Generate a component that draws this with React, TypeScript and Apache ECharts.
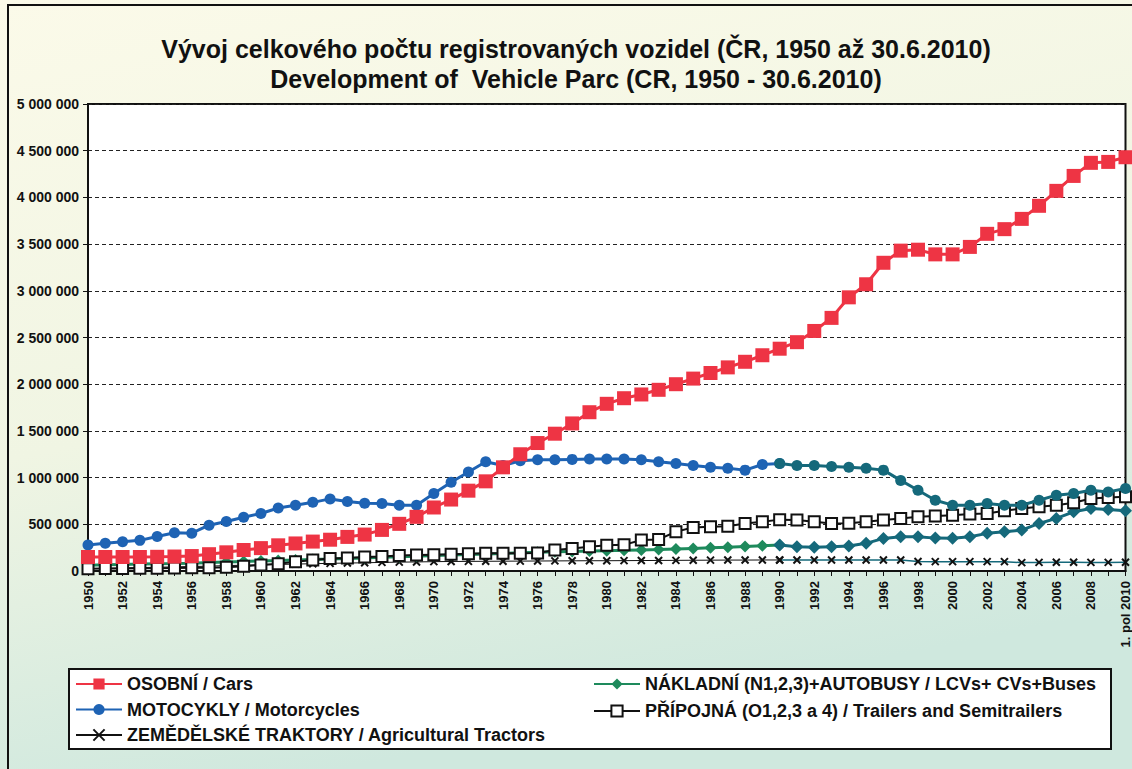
import React, { useEffect, useRef } from "react";
import * as echarts from "echarts";

const years: string[] = [
  "1950","1951","1952","1953","1954","1955","1956","1957","1958","1959",
  "1960","1961","1962","1963","1964","1965","1966","1967","1968","1969",
  "1970","1971","1972","1973","1974","1975","1976","1977","1978","1979",
  "1980","1981","1982","1983","1984","1985","1986","1987","1988","1989",
  "1990","1991","1992","1993","1994","1995","1996","1997","1998","1999",
  "2000","2001","2002","2003","2004","2005","2006","2007","2008","2009",
  "1. pol 2010",
];

// values in thousands
const cars: number[] = [
  150,150,150,150,152,155,160,180,200,225,
  245,275,295,315,335,365,390,440,505,580,
  680,765,860,960,1110,1250,1370,1470,1580,1700,
  1790,1850,1890,1940,2000,2060,2120,2180,2240,2310,
  2380,2450,2570,2710,2930,3070,3300,3430,3440,3390,
  3390,3470,3610,3660,3770,3910,4070,4230,4370,4380,
  4430,
];
const motorcycles: number[] = [
  278,298,313,328,370,410,405,490,530,575,
  616,675,705,735,772,745,725,723,705,705,
  830,950,1060,1170,1130,1180,1190,1190,1195,1200,
  1200,1200,1190,1170,1150,1130,1110,1100,1080,1140,
  1150,1130,1130,1120,1110,1100,1080,970,865,758,
  705,705,723,705,705,758,812,830,865,847,
  883,
];
const trucks: number[] = [
  62,66,70,74,78,80,84,90,96,102,
  108,112,118,124,128,135,140,146,152,158,
  165,170,176,182,188,195,200,205,210,214,
  218,222,226,230,236,242,248,255,262,270,
  278,260,253,260,267,296,349,367,367,352,
  350,367,403,420,438,509,563,634,670,659,
  645,
];
const trailers: number[] = [
  25,27,28,30,30,32,34,36,40,52,
  64,78,100,117,135,140,150,155,165,170,
  175,180,185,189,190,190,192,224,242,260,
  275,280,331,338,420,467,473,480,509,527,
  550,545,527,509,510,527,545,563,580,588,
  598,609,616,645,670,687,705,730,777,787,
  794,
];
const tractors: number[] = [
  25,28,32,36,40,44,48,52,58,62,
  66,70,74,78,82,85,88,92,95,97,
  100,102,103,104,105,106,107,108,109,110,
  110,111,112,113,114,115,116,117,117,118,
  118,117,117,117,117,117,117,117,102,100,
  100,100,100,100,90,92,94,93,92,92,
  94,
];

const yTicks: number[] = [0, 500000, 1000000, 1500000, 2000000, 2500000, 3000000, 3500000, 4000000, 4500000, 5000000];

const NAMES = {
  cars: "OSOBNÍ / Cars",
  moto: "MOTOCYKLY / Motorcycles",
  tract: "ZEMĚDĚLSKÉ TRAKTORY / Agricultural Tractors",
  truck: "NÁKLADNÍ (N1,2,3)+AUTOBUSY / LCVs+ CVs+Buses",
  trail: "PŘÍPOJNÁ (O1,2,3 a 4) / Trailers and Semitrailers",
};

const SPLIT = years.indexOf("1990");
const FONT = "'Liberation Sans Narrow', 'Liberation Sans', Arial, sans-serif";
const FONT_W = "'Liberation Sans', Arial, sans-serif";

const RED = "#ee3444";
const BLUE = "#1e63b4";
const TEAL = "#15697b";
const GREEN = "#1e8a5c";

const toUnits = (arr: number[]) => arr.map((v) => v * 1000);
const pre = (arr: number[]) => toUnits(arr).map((v, i) => (i <= SPLIT ? v : null));
const post = (arr: number[]) => toUnits(arr).map((v, i) => (i >= SPLIT ? v : null));
const fmt = (v: number) => String(v).replace(/\B(?=(\d{3})+(?!\d))/g, " ");

const X_PATH = "path://M0,0L10,10M10,0L0,10";

export default function App() {
  const ref = useRef<HTMLDivElement>(null);
  useEffect(() => {
    if (!ref.current) return;
    const chart = echarts.init(ref.current, null, { renderer: "svg" });
    const legendText = { fontFamily: FONT_W, fontWeight: "bold" as const, fontSize: 18, color: "#111" };
    const common = { type: "line", showAllSymbol: true, smooth: false };
    chart.setOption({
      animation: false,
      backgroundColor: {
        type: "linear", x: 0, y: 0, x2: 0.3, y2: 1,
        colorStops: [
          { offset: 0, color: "#fbfae9" },
          { offset: 0.55, color: "#f0f5e3" },
          { offset: 1, color: "#cfe8de" },
        ],
      },
      title: {
        text: "Vývoj celkového počtu registrovaných vozidel (ČR, 1950 až 30.6.2010)\nDevelopment of  Vehicle Parc (CR, 1950 - 30.6.2010)",
        left: 571,
        textAlign: "center",
        top: 29,
        textStyle: { fontFamily: FONT_W, fontWeight: "bold", fontSize: 25, lineHeight: 30, color: "#111" },
      },
      graphic: [
        { type: "rect", shape: { x: 8, y: 5, width: 1140, height: 800 }, style: { fill: "none", stroke: "#111", lineWidth: 2 }, silent: true, z: 0 },
        { type: "rect", shape: { x: 69, y: 669, width: 1042, height: 80 }, style: { fill: "#fff", stroke: "#111", lineWidth: 2 }, silent: true, z: 0 },
      ],
      legend: [
        {
          data: [NAMES.cars, NAMES.moto, NAMES.tract],
          orient: "vertical", left: 70, top: 670, itemGap: 7.5, itemWidth: 46, itemHeight: 14,
          textStyle: legendText, selectedMode: false,
        },
        {
          data: [NAMES.truck, NAMES.trail],
          orient: "vertical", left: 588, top: 670, itemGap: 9, itemWidth: 46, itemHeight: 14,
          textStyle: legendText, selectedMode: false,
        },
      ],
      grid: {
        left: 88, right: 6, top: 104, bottom: 198,
        show: true, backgroundColor: "#ffffff", borderColor: "#111", borderWidth: 2,
      },
      xAxis: {
        type: "category",
        data: years,
        boundaryGap: false,
        axisLine: { lineStyle: { color: "#111", width: 2 } },
        axisTick: { show: true, interval: 0, length: 5, lineStyle: { color: "#111", width: 1 } },
        axisLabel: {
          interval: 1, rotate: 90, margin: 10,
          fontFamily: FONT, fontWeight: "bold", fontSize: 13, color: "#111",
        },
        splitLine: { show: false },
      },
      yAxis: {
        type: "value",
        min: yTicks[0],
        max: yTicks[yTicks.length - 1],
        interval: yTicks[1] - yTicks[0],
        axisLine: { show: true, lineStyle: { color: "#111", width: 2 } },
        axisTick: { show: true, length: 5, lineStyle: { color: "#111" } },
        axisLabel: {
          margin: 9, formatter: (v: number) => fmt(v),
          fontFamily: FONT, fontWeight: "bold", fontSize: 14, color: "#111",
        },
        splitLine: { show: true, lineStyle: { color: "#222", type: [4, 3], width: 1 } },
      },
      series: [
        {
          ...common, name: NAMES.cars, data: toUnits(cars),
          symbol: "rect", symbolSize: 14, itemStyle: { color: RED }, lineStyle: { color: RED, width: 3 }, z: 5,
        },
        {
          ...common, name: NAMES.moto, data: pre(motorcycles),
          symbol: "circle", symbolSize: 11, itemStyle: { color: BLUE }, lineStyle: { color: BLUE, width: 3 }, z: 4,
        },
        {
          ...common, name: NAMES.moto, data: post(motorcycles),
          symbol: "circle", symbolSize: 11, itemStyle: { color: TEAL }, lineStyle: { color: TEAL, width: 3 }, z: 4,
        },
        {
          ...common, name: NAMES.tract, data: pre(tractors),
          symbol: X_PATH, symbolSize: 7, itemStyle: { color: "#111", borderColor: "#111", borderWidth: 2 },
          lineStyle: { color: "#111", width: 1 }, z: 2,
        },
        {
          ...common, name: NAMES.tract, data: post(tractors),
          symbol: X_PATH, symbolSize: 7, itemStyle: { color: "#111", borderColor: "#111", borderWidth: 2 },
          lineStyle: { color: TEAL, width: 1.5 }, z: 2,
        },
        {
          ...common, name: NAMES.truck, data: pre(trucks),
          symbol: "diamond", symbolSize: 12, itemStyle: { color: GREEN }, lineStyle: { color: GREEN, width: 3 }, z: 3,
        },
        {
          ...common, name: NAMES.truck, data: post(trucks),
          symbol: "diamond", symbolSize: 13, itemStyle: { color: TEAL }, lineStyle: { color: TEAL, width: 3 }, z: 3,
        },
        {
          ...common, name: NAMES.trail, data: toUnits(trailers),
          symbol: "rect", symbolSize: 11,
          itemStyle: { color: "#ffffff", borderColor: "#111", borderWidth: 2 },
          lineStyle: { color: "#111", width: 2 }, z: 3,
        },
      ],
    });
    return () => chart.dispose();
  }, []);
  return (
    <div
      ref={ref}
      style={{ position: "fixed", left: 0, top: 0, width: 1132, height: 769 }}
    />
  );
}
